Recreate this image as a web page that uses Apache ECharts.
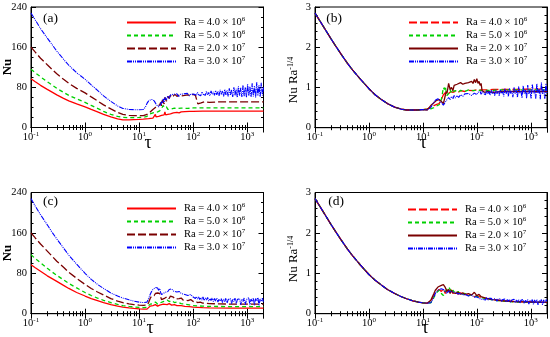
<!DOCTYPE html>
<html><head><meta charset="utf-8">
<script src="https://cdn.jsdelivr.net/npm/echarts@6/dist/echarts.min.js"></script>
<style>html,body{margin:0;padding:0;background:#fff}#c{width:550px;height:337px}</style>
</head><body><div id="c"></div>
<script>
// ---------------- DATA ----------------
const tauE = [0.1, 0.12, 0.15, 0.2, 0.25, 0.3, 0.4, 0.5, 0.7, 1, 1.3, 1.7, 2.2, 3, 4, 5, 6.5, 8, 10];
const tauNoise = [105,110,115,120,126,132,138,145,152,160,168,176,185,194,204,214,225,236,248,260,273,287,301,316,332,349,366,384,403,423,444,466,489,513,539,566,594,624,655,688,722,758,796,836,878,922,968,1016,1067,1120,1176,1235,1297,1362,1430,1500,1575,1650,1730,1820,1910,2000];
const raLabels = [['4.0','6'],['5.0','6'],['2.0','7'],['3.0','7']];
const panelLabels = ['(a)','(b)','(c)','(d)'];

// Panel (a): Nu
const aRedE   = [97, 91, 84, 76, 70, 65, 58, 53, 47, 41, 36, 31, 26, 21, 17, 15, 15, 15.5, 16];
const aGreenE = [116, 109, 101, 91, 84, 78, 70, 64, 57, 50, 44, 38, 32, 26, 22, 20, 19.5, 19.5, 20];
const aBrownE = [160, 150, 138, 125, 115, 107, 96, 88, 78, 69, 61, 53, 45, 37, 30, 26, 24, 23.5, 23.5];
const aBlueE  = [228, 214, 197, 178, 164, 152, 136, 124, 109, 96, 85, 74, 63, 52, 43, 38, 36, 35.5, 35.5];
const aRedLT = [12, 15, 18, 19.5, 20, 20.5, 21.5, 23, 24.5, 26, 27.5, 29, 30, 31, 32.5, 34, 36, 38, 40, 43, 46, 50, 55, 60, 70, 85, 100, 150, 300, 1000, 2000];
const aRedL  = [16.5, 17.5, 18.5, 19, 26, 21, 23, 22, 25, 24, 26, 25, 31, 25, 27, 26, 29, 27, 28, 29, 28, 30, 29, 31, 31.5, 32, 32, 32.5, 32.5, 32.5, 32.5];
const aGreenLT = [12, 14, 15, 16, 18, 20, 22, 24, 26, 28, 29, 30, 32, 34, 36, 40, 45, 50, 60, 80, 100, 200, 500, 1000, 2000];
const aGreenL  = [20.5, 22, 26, 28, 29, 30, 31, 33, 38, 44, 40, 37, 41, 36, 39, 37, 38.5, 37.5, 38.5, 38, 39, 39, 39, 39, 39];
const aBrownLT = [12, 14, 16, 18, 20, 22, 24, 25, 26, 27, 28, 29, 30, 32, 34, 36, 38, 40, 43, 46, 50, 55, 60, 65, 70, 80, 90, 100, 110, 118, 122, 125, 130, 140, 160, 200, 300, 500, 1000, 2000];
const aBrownL  = [23.5, 26, 31, 36, 40, 43, 45, 50, 43, 55, 58, 47, 60, 52, 62, 58, 64, 60, 63, 66, 62, 65, 63, 66, 64, 65, 63, 66, 64, 65, 47, 45, 50, 49, 51, 50, 51, 51, 51, 51];
const aBlueLT = [12, 13, 14, 15, 16, 17, 18, 19, 20, 21, 22, 23, 24, 25, 26, 27, 28, 29, 30, 32, 34, 36, 38, 40, 43, 46, 50, 54, 58, 62, 67, 72, 78, 85, 92, 100];
const aBlueL  = [36, 40, 48, 53, 56, 56, 55, 53, 49, 45, 42, 41, 42, 46, 52, 48, 57, 50, 60, 55, 63, 58, 65, 62, 66, 63, 67, 62, 66, 63, 67, 64, 68, 63, 67, 65];
const aBlueN  = [66,69,64,70,65,68,63,71,66,69,64,72,65,70,63,73,66,71,64,74,65,72,63,75,66,73,62,76,65,74,62,78,64,75,61,80,64,77,60,82,63,79,61,84,62,80,60,86,63,82,61,88,62,83,60,90,63,84,61,89,64,80];

// Panel (b): Nu Ra^-1/4
const bEarly = [2.85, 2.68, 2.47, 2.2, 2.0, 1.84, 1.6, 1.43, 1.2, 0.97, 0.82, 0.7, 0.6, 0.51, 0.46, 0.44, 0.44, 0.44, 0.45];
const bRedLT = [12, 14, 16, 18, 20, 22, 24, 26, 28, 30, 33, 36, 40, 45, 50, 60, 70, 85, 100, 150, 200, 300, 500, 1000, 2000];
const bRedL  = [0.47, 0.5, 0.55, 0.58, 0.6, 0.7, 0.82, 0.87, 0.9, 0.85, 0.9, 0.88, 0.9, 0.88, 0.92, 0.9, 0.93, 0.92, 0.94, 0.94, 0.95, 0.95, 0.95, 0.96, 0.96];
const bGreenLT = [12, 14, 16, 18, 20, 22, 23, 24, 25, 26, 27, 28, 30, 32, 34, 36, 40, 45, 50, 60, 70, 85, 100, 150, 200, 300, 500, 1000, 2000];
const bGreenL  = [0.46, 0.47, 0.5, 0.54, 0.57, 0.7, 0.85, 1.0, 0.95, 1.03, 0.9, 0.8, 0.85, 0.95, 0.85, 0.9, 0.92, 0.88, 0.93, 0.9, 0.94, 0.92, 0.93, 0.93, 0.93, 0.94, 0.94, 0.94, 0.94];
const bBrownLT = [12, 13, 14, 16, 18, 20, 22, 24, 26, 27, 28, 30, 32, 34, 36, 38, 40, 43, 46, 50, 55, 60, 65, 70, 75, 80, 85, 90, 95, 100, 105, 110, 115, 120, 125, 130, 140, 160, 200, 300, 500, 1000, 2000];
const bBrownL  = [0.44, 0.46, 0.55, 0.62, 0.68, 0.7, 0.65, 0.6, 0.8, 0.9, 0.85, 1.1, 0.95, 1.0, 0.92, 1.05, 1.02, 1.08, 1.05, 1.12, 1.08, 1.1, 1.06, 1.12, 1.08, 1.15, 1.1, 1.2, 1.12, 1.22, 1.1, 1.15, 1.05, 1.1, 0.92, 0.9, 0.88, 0.9, 0.88, 0.9, 0.9, 0.9, 0.9];
const bBlueLT = [12, 13, 14, 15, 16, 17, 18, 19, 20, 22, 24, 25, 26, 28, 30, 32, 34, 36, 38, 40, 43, 46, 50, 55, 60, 65, 70, 80, 90, 100];
const bBlueL  = [0.44, 0.45, 0.5, 0.57, 0.63, 0.68, 0.7, 0.72, 0.7, 0.62, 0.56, 0.55, 0.6, 0.7, 0.75, 0.7, 0.78, 0.72, 0.8, 0.74, 0.8, 0.75, 0.82, 0.78, 0.84, 0.8, 0.85, 0.8, 0.86, 0.82];
const bBlueN  = [0.88,0.84,0.9,0.83,0.91,0.85,0.89,0.82,0.92,0.84,0.9,0.81,0.93,0.85,0.9,0.8,0.94,0.84,0.91,0.79,0.95,0.85,0.9,0.78,0.97,0.84,0.92,0.77,0.98,0.85,0.91,0.76,1.0,0.84,0.93,0.75,1.02,0.86,0.92,0.74,1.04,0.85,0.94,0.73,1.06,0.84,0.95,0.72,1.08,0.86,0.93,0.72,1.1,0.85,0.96,0.71,1.12,0.84,0.95,0.72,1.1,0.86];

// Panel (c): Nu
const cRedE   = [97, 91, 84, 75, 69, 64, 56, 50, 42, 35, 30, 26, 22, 18, 15, 13, 11.5, 10.5, 9.5];
const cGreenE = [117, 109, 101, 90, 82, 76, 67, 60, 51, 42, 36, 31, 26.5, 22, 18.5, 16, 14.5, 13.5, 12.5];
const cBrownE = [160, 150, 138, 124, 113, 104, 92, 82, 70, 58, 50, 43, 37, 30, 25, 22, 19.5, 18, 17];
const cBlueE  = [228, 213, 196, 176, 160, 148, 130, 116, 98, 80, 68, 58, 50, 41, 35, 31, 27.5, 25, 23];
const cLateT  = [12, 13, 14, 15, 16, 17, 18, 20, 22, 24, 26, 28, 30, 33, 36, 40, 45, 50, 60, 70, 85, 100, 150, 200, 500, 1000, 2000];
const cRedL   = [9, 8.8, 9, 11, 15, 17, 16, 18, 15, 17, 14, 19, 16, 18, 20, 17, 18, 16, 16, 14.5, 14, 13, 12, 11.5, 11, 11, 11];
const cGreenL = [12.2, 12, 12.5, 15, 19, 21, 20, 23, 19, 21, 18, 24, 22, 27, 24, 26, 22, 23, 20, 19, 17.5, 16, 15, 14.5, 14, 14, 14];
const cBrownLT = [12, 13, 14, 15, 16, 17, 18, 19, 20, 21, 22, 23, 24, 25, 26, 27, 28, 30, 32, 34, 36, 38, 40, 43, 46, 50, 55, 60, 65, 70, 80, 90, 100, 110, 120, 135, 150, 200, 300, 500, 1000, 2000];
const cBrownL  = [16.5, 16, 17, 22, 30, 35, 38, 36, 40, 37, 41, 38, 40, 33, 28, 30, 27, 31, 28, 34, 30, 35, 32, 33, 29, 32, 30, 31, 27, 29, 26, 28, 24, 25, 22, 23, 21, 20, 19.5, 19, 19, 19];
const cBlueLT = [12, 13, 14, 15, 16, 17, 18, 19, 20, 21, 22, 23, 24, 25, 26, 27, 28, 30, 32, 34, 36, 38, 40, 43, 46, 50, 55, 60, 65, 70, 75, 80, 90, 100];
const cBlueL  = [22, 21.5, 23, 30, 38, 44, 48, 50, 52, 49, 51, 46, 50, 42, 38, 40, 37, 42, 45, 44, 48, 46, 49, 45, 47, 43, 44, 40, 42, 38, 40, 36, 38, 33];
const cBlueN  = [35,30,34,29,33,28,32,27,33,26,31,27,32,25,30,26,31,24,30,25,31,23,29,25,30,22,29,24,31,21,28,25,30,20,29,24,31,19,28,25,30,18,29,24,31,18,28,25,32,17,29,24,31,17,30,25,32,16,29,24,31,22];

// Panel (d): Nu Ra^-1/4
const dEarly = [2.85, 2.68, 2.47, 2.2, 2.0, 1.84, 1.6, 1.43, 1.2, 0.97, 0.83, 0.71, 0.6, 0.5, 0.42, 0.37, 0.32, 0.29, 0.27];
const dRedLT = [12, 13, 14, 15, 16, 17, 18, 20, 22, 24, 26, 28, 30, 33, 36, 40, 45, 50, 55, 60, 70, 80, 90, 100, 120, 150, 200, 300, 500, 1000, 2000];
const dRedL  = [0.26, 0.26, 0.3, 0.38, 0.45, 0.52, 0.56, 0.6, 0.55, 0.62, 0.5, 0.58, 0.52, 0.6, 0.5, 0.55, 0.48, 0.52, 0.47, 0.5, 0.45, 0.48, 0.42, 0.45, 0.4, 0.38, 0.35, 0.32, 0.3, 0.29, 0.28];
const dGreenLT = [12, 13, 14, 15, 16, 17, 18, 20, 22, 24, 26, 28, 30, 32, 34, 36, 40, 45, 50, 60, 70, 80, 100, 120, 150, 200, 300, 500, 1000, 2000];
const dGreenL  = [0.27, 0.26, 0.27, 0.32, 0.4, 0.47, 0.52, 0.58, 0.5, 0.45, 0.55, 0.6, 0.66, 0.6, 0.52, 0.58, 0.5, 0.55, 0.48, 0.5, 0.45, 0.47, 0.42, 0.4, 0.37, 0.34, 0.31, 0.29, 0.28, 0.28];
const dBrownLT = [12, 13, 14, 15, 16, 17, 18, 19, 20, 22, 24, 25, 26, 28, 30, 32, 34, 36, 38, 40, 45, 50, 55, 60, 70, 80, 90, 100, 110, 120, 130, 150, 200, 300, 500, 1000, 2000];
const dBrownL  = [0.26, 0.27, 0.33, 0.42, 0.5, 0.58, 0.62, 0.66, 0.68, 0.7, 0.72, 0.7, 0.65, 0.55, 0.6, 0.5, 0.58, 0.52, 0.55, 0.5, 0.53, 0.48, 0.52, 0.47, 0.5, 0.46, 0.53, 0.45, 0.48, 0.42, 0.44, 0.38, 0.35, 0.32, 0.3, 0.29, 0.28];
const dBlueLT = [12, 13, 14, 15, 16, 17, 18, 20, 22, 24, 26, 28, 30, 32, 34, 36, 40, 45, 50, 55, 60, 70, 80, 90, 100];
const dBlueL  = [0.26, 0.25, 0.27, 0.33, 0.42, 0.5, 0.55, 0.6, 0.62, 0.6, 0.55, 0.5, 0.56, 0.58, 0.54, 0.5, 0.53, 0.49, 0.5, 0.46, 0.48, 0.44, 0.46, 0.41, 0.42];
const dBlueN  = [0.42,0.38,0.41,0.36,0.4,0.35,0.39,0.34,0.4,0.33,0.38,0.34,0.38,0.32,0.37,0.33,0.37,0.31,0.36,0.32,0.37,0.3,0.35,0.31,0.36,0.29,0.35,0.3,0.36,0.28,0.34,0.3,0.36,0.27,0.34,0.29,0.35,0.26,0.33,0.29,0.35,0.25,0.33,0.28,0.35,0.24,0.33,0.28,0.35,0.23,0.34,0.27,0.35,0.22,0.33,0.28,0.35,0.22,0.34,0.27,0.35,0.3];

// ---------------- BUILD ----------------
function pts(t, v) { return t.map((x, i) => [x, v[i]]); }
function curve(early, lt, l, nt, nv) {
  let d = pts(tauE, early).concat(pts(lt, l));
  if (nt) d = d.concat(pts(nt, nv));
  return d;
}
const panelData = [
  [curve(aRedE, aRedLT, aRedL), curve(aGreenE, aGreenLT, aGreenL), curve(aBrownE, aBrownLT, aBrownL), curve(aBlueE, aBlueLT, aBlueL, tauNoise, aBlueN)],
  [curve(bEarly, bRedLT, bRedL), curve(bEarly, bGreenLT, bGreenL), curve(bEarly, bBrownLT, bBrownL), curve(bEarly, bBlueLT, bBlueL, tauNoise, bBlueN)],
  [curve(cRedE, cLateT, cRedL), curve(cGreenE, cLateT, cGreenL), curve(cBrownE, cBrownLT, cBrownL), curve(cBlueE, cBlueLT, cBlueL, tauNoise, cBlueN)],
  [curve(dEarly, dRedLT, dRedL), curve(dEarly, dGreenLT, dGreenL), curve(dEarly, dBrownLT, dBrownL), curve(dEarly, dBlueLT, dBlueL, tauNoise, dBlueN)]
];

const FF = 'Liberation Serif';
const colors = ['#ff0000', '#00d000', '#7a0000', '#0000ff'];
const dashBlue = [5, 1, 1, 1, 1, 1];
const typesAC = ['solid', [4, 3], [8, 3], dashBlue];
const typesBD = [[8, 3], [4, 3], 'solid', dashBlue];
const widths = [1.3, 1.3, 1.3, 1.1];

const grids = [
  { left: 31, top: 7, width: 232.5, height: 120.5 },
  { left: 315, top: 7, width: 232, height: 120.7 },
  { left: 31, top: 192.5, width: 232.5, height: 121.2 },
  { left: 315, top: 192.5, width: 232, height: 121.2 }
];
const legendPos = [
  { left: 126, top: 16 }, { left: 408, top: 16 }, { left: 126, top: 202 }, { left: 407, top: 203 }
];

const supRich = {
  b: { fontFamily: FF, fontSize: 10.5, color: '#000', lineHeight: 13 },
  s: { fontFamily: FF, fontSize: 7, color: '#000', lineHeight: 6, verticalAlign: 'top' },
  g: { width: 3 }
};

const xAxes = [], yAxes = [], series = [], legends = [];
for (let p = 0; p < 4; p++) {
  const scaled = (p === 1 || p === 3);
  const xBase = {
    type: 'log', logBase: 10, min: 0.1, max: 2000, gridIndex: p,
    axisLine: { show: true, lineStyle: { color: '#000', width: 1 } },
    axisTick: { show: true, inside: true, length: 5, lineStyle: { color: '#000' } },
    minorTick: { show: true, splitNumber: 9, length: 2.5, lineStyle: { color: '#000' } },
    splitLine: { show: false }, minorSplitLine: { show: false }
  };
  xAxes.push(Object.assign({}, xBase, {
    position: 'bottom',
    axisLabel: {
      margin: 3, showMaxLabel: false,
      formatter: function (v) {
        const e = Math.log10(v);
        if (Math.abs(e - Math.round(e)) > 1e-6) return '';
        return '{b|10}{s|' + Math.round(e) + '}';
      },
      rich: supRich
    }
  }));
  xAxes.push(Object.assign({}, xBase, { position: 'top', axisLabel: { show: false } }));
  const yBase = {
    type: 'value', gridIndex: p, min: 0, max: scaled ? 3 : 240, interval: scaled ? 1 : 80,
    axisLine: { show: true, lineStyle: { color: '#000', width: 1 } },
    axisTick: { show: true, inside: true, length: 5, lineStyle: { color: '#000' } },
    minorTick: { show: true, splitNumber: scaled ? 5 : 4, length: 2.5, lineStyle: { color: '#000' } },
    splitLine: { show: false }
  };
  yAxes.push(Object.assign({}, yBase, {
    position: 'left',
    axisLabel: { margin: 4, fontFamily: FF, fontSize: 10.5, color: '#000' }
  }));
  yAxes.push(Object.assign({}, yBase, { position: 'right', axisLabel: { show: false } }));

  const names = [];
  for (let k = 0; k < 4; k++) {
    const nm = 'p' + p + 's' + k;
    names.push(nm);
    series.push({
      type: 'line', name: nm, xAxisIndex: 2 * p, yAxisIndex: 2 * p,
      data: panelData[p][k], symbol: 'none', showSymbol: false, smooth: false,
      lineStyle: { color: colors[k], width: widths[k], type: scaled ? typesBD[k] : typesAC[k] },
      itemStyle: { color: colors[k] }, z: 2 + k, silent: true
    });
  }
  legends.push(Object.assign({
    orient: 'vertical', padding: 0, itemWidth: 49, itemHeight: 12, itemGap: 1,
    selectedMode: false, data: names,
    itemStyle: { opacity: 0, borderWidth: 0 },
    formatter: function (name) {
      const k = +name.slice(-1);
      return '{g|}{b|Ra = ' + raLabels[k][0] + ' \u00d7 10}{s|' + raLabels[k][1] + '}';
    },
    textStyle: { fontFamily: FF, fontSize: 10.5, color: '#000', rich: supRich }
  }, legendPos[p]));
}

const supName = { n: { fontFamily: FF, fontSize: 13, lineHeight: 14, fill: '#000' }, s: { fontFamily: FF, fontSize: 8, lineHeight: 7, verticalAlign: 'top', fill: '#000' } };
function txt(x, y, text, font, rot) {
  const g = { type: 'text', x: x, y: y, style: { text: text, font: font, fill: '#000', align: 'center', verticalAlign: 'middle' } };
  if (rot) g.rotation = Math.PI / 2;
  return g;
}
const graphics = [
  txt(50.5, 18, panelLabels[0], '13.5px "Liberation Serif"'),
  txt(334, 18, panelLabels[1], '13.5px "Liberation Serif"'),
  txt(50.5, 201, panelLabels[2], '13.5px "Liberation Serif"'),
  txt(336, 201, panelLabels[3], '13.5px "Liberation Serif"'),
  txt(7.5, 67, 'Nu', 'bold 13px "Liberation Serif"', true),
  txt(7.5, 253, 'Nu', 'bold 13px "Liberation Serif"', true),
  { type: 'text', x: 294, y: 80, rotation: Math.PI / 2, style: { text: '{n|Nu Ra}{s|-1/4}', rich: supName, align: 'center', verticalAlign: 'middle' } },
  { type: 'text', x: 294, y: 259, rotation: Math.PI / 2, style: { text: '{n|Nu Ra}{s|-1/4}', rich: supName, align: 'center', verticalAlign: 'middle' } },
  txt(148, 143, '\u03c4', '18px "Liberation Serif"'),
  txt(423, 143, '\u03c4', '18px "Liberation Serif"'),
  txt(150, 328, '\u03c4', '18px "Liberation Serif"'),
  txt(425, 328, '\u03c4', '18px "Liberation Serif"')
];

const chart = echarts.init(document.getElementById('c'), null, { renderer: 'canvas' });
chart.setOption({
  animation: false,
  backgroundColor: '#fff',
  grid: grids.map(g => Object.assign({ show: true, borderColor: '#000', borderWidth: 1, backgroundColor: 'transparent' }, g)),
  xAxis: xAxes, yAxis: yAxes, series: series, legend: legends, graphic: graphics
});
</script></body></html>
